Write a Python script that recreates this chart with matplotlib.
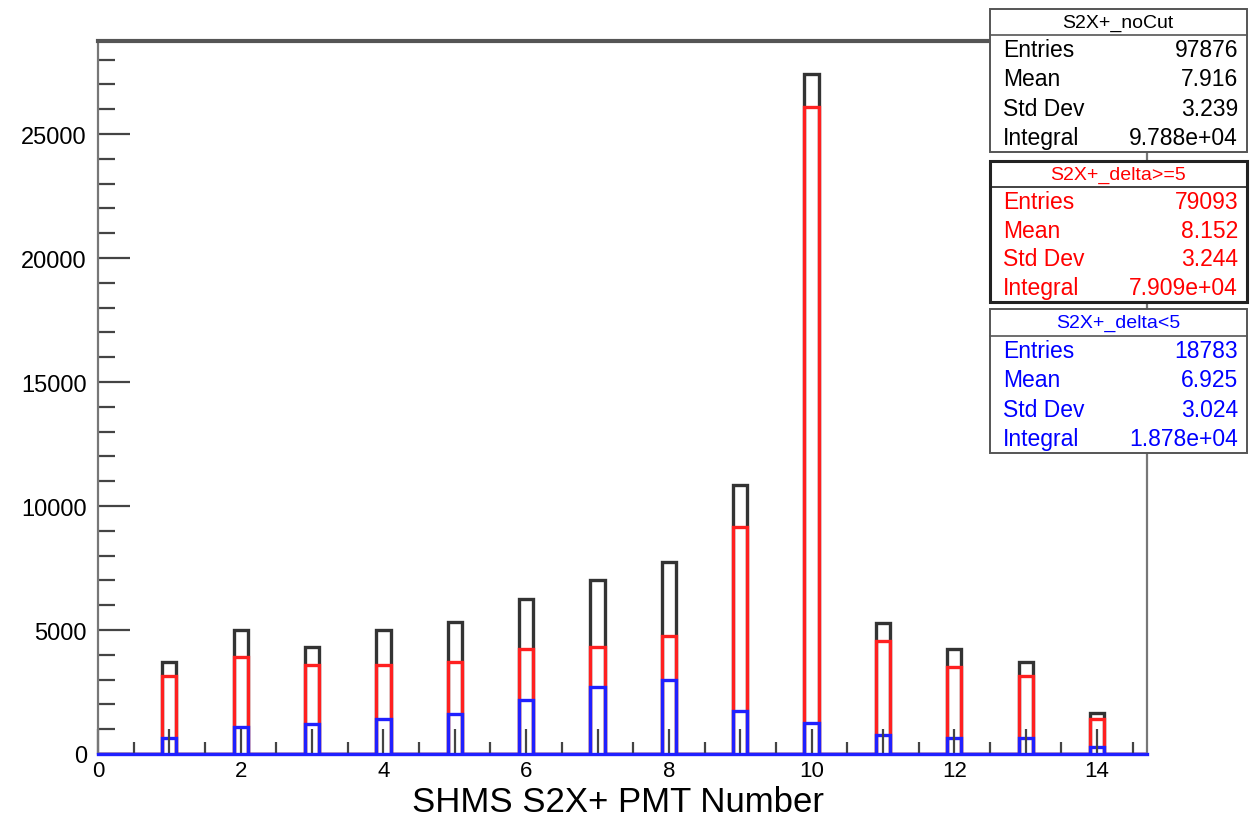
import numpy as np
import matplotlib
matplotlib.use("Agg")
import matplotlib.pyplot as plt
from matplotlib.patches import Rectangle
from matplotlib.ticker import FixedLocator, MultipleLocator, FuncFormatter

plt.rcParams['font.family'] = ['Liberation Sans', 'DejaVu Sans']

# PMT numbers and counts
pmt = np.arange(1, 15)
no_cut = [3710, 5000, 4320, 5000, 5320, 6250, 7020, 7740, 10850, 27420, 5280, 4230, 3710, 1650]
delta_ge5 = [3140, 3910, 3590, 3590, 3700, 4230, 4320, 4760, 9150, 26090, 4560, 3510, 3140, 1400]
delta_lt5 = [650, 1090, 1200, 1400, 1620, 2180, 2700, 3000, 1720, 1230, 760, 660, 640, 270]

stats = [
    ("S2X+_noCut", "black", ["97876", "7.916", "3.239", "9.788e+04"]),
    ("S2X+_delta>=5", "red", ["79093", "8.152", "3.244", "7.909e+04"]),
    ("S2X+_delta<5", "blue", ["18783", "6.925", "3.024", "1.878e+04"]),
]
stat_names = ["Entries", "Mean", "Std Dev", "Integral"]

W, H = 1250, 820
fig = plt.figure(figsize=(12.5, 8.2), dpi=100)
ax = fig.add_axes([98 / W, 1 - 755 / H, (1147 - 98) / W, (755 - 42) / H])

edges = np.arange(-0.1, 15.0, 0.2)
for vals, col in [(no_cut, "#333333"), (delta_ge5, "#ff2020"), (delta_lt5, "#2020ff")]:
    counts, _ = np.histogram(pmt, bins=edges, weights=vals)
    ax.stairs(counts, edges, color=col, lw=2.4, baseline=0)

ax.set_xlim(0, 14.7)
ax.set_ylim(0, 28750)

ax.xaxis.set_major_locator(FixedLocator(range(0, 15)))
ax.xaxis.set_minor_locator(MultipleLocator(0.5))
ax.xaxis.set_major_formatter(FuncFormatter(lambda v, p: f"{int(v)}" if int(v) % 2 == 0 else ""))
ax.yaxis.set_major_locator(MultipleLocator(5000))
ax.yaxis.set_minor_locator(MultipleLocator(1000))
ax.tick_params(axis="both", which="both", direction="in", color="#444444", width=1.6,
               labelsize=17, top=False, right=False)
ax.tick_params(axis="x", which="major", length=18, pad=4, labelsize=16)
ax.tick_params(axis="x", which="minor", length=9)
ax.tick_params(axis="y", which="major", length=23, pad=8)
ax.tick_params(axis="y", which="minor", length=12)

for s in ["left", "right"]:
    ax.spines[s].set_color("#777777")
    ax.spines[s].set_linewidth(1.6)
ax.spines["bottom"].set_color("#2020ff")
ax.spines["bottom"].set_linewidth(2.4)
ax.spines["top"].set_color("#555555")
ax.spines["top"].set_linewidth(3)

fig.text(618 / W, 1 - 812 / H, "SHMS S2X+ PMT Number", ha="center", va="baseline", fontsize=25)


def fx(x):
    return x / W


def fy(y):
    return 1 - y / H


boxes = [(10, 36, 153), (162, 188, 303), (310, 337, 454)]
for (title, col, values), (top, hdr, bot) in zip(stats, boxes):
    lw = 2.2 if col == "red" else 1.4
    ec = "#222222" if col == "red" else "#555555"
    fig.patches.append(Rectangle((fx(990), fy(bot)), fx(1247) - fx(990), fy(top) - fy(bot),
                                 transform=fig.transFigure, fill=True, facecolor="white",
                                 edgecolor=ec, lw=lw, zorder=5))
    fig.lines.append(plt.Line2D([fx(990), fx(1247)], [fy(hdr), fy(hdr)], transform=fig.transFigure,
                                color=ec, lw=1.2, zorder=6))
    fig.text(fx(1118), fy((top + hdr) / 2), title, color=col, ha="center", va="center",
             fontsize=14, zorder=7)
    row_h = (bot - hdr) / 4
    for i, (name, v) in enumerate(zip(stat_names, values)):
        yc = hdr + row_h * (i + 0.5)
        fig.text(fx(1003), fy(yc), name, color=col, ha="left", va="center", fontsize=16.5, zorder=7)
        fig.text(fx(1238), fy(yc), v, color=col, ha="right", va="center", fontsize=16.5, zorder=7)

fig.savefig("out.png", dpi=100)
